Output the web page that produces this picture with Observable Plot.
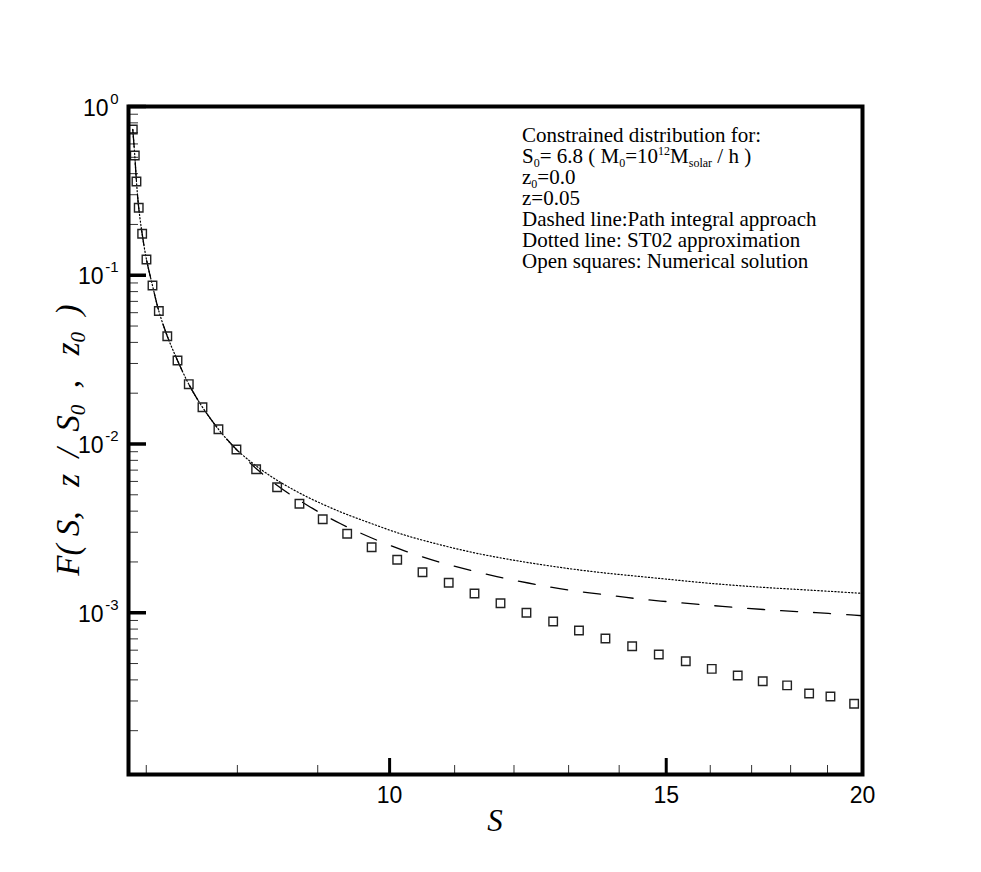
<!DOCTYPE html>
<html><head><meta charset="utf-8">
<script src="https://cdn.jsdelivr.net/npm/d3@7"></script>
<script src="https://cdn.jsdelivr.net/npm/@observablehq/plot@0.6"></script>
<style>body{margin:0;background:#fff;} #chart svg{display:block;}</style>
</head><body><div id="chart"></div>
<script>
// Numerical solution (open squares)
const squareS = [6.863,6.883,6.900,6.923,6.958,7.002,7.064,7.130,7.219,7.328,7.450,7.601,7.781,7.989,8.223,8.480,8.762,9.066,9.397,9.740,10.112,10.494,10.905,11.325,11.765,12.221,12.709,13.199,13.721,14.269,14.837,15.436,16.035,16.657,17.279,17.908,18.495,19.082,19.756];
const squareF = [0.7306,0.5125,0.3594,0.2510,0.1760,0.1240,0.08695,0.06141,0.04353,0.03125,0.02262,0.01652,0.01224,0.009277,0.007089,0.005546,0.004421,0.003584,0.002937,0.002446,0.002060,0.001739,0.001505,0.001300,0.001139,0.000999,0.000887,0.000785,0.000704,0.000633,0.000566,0.000516,0.000465,0.000425,0.000393,0.000371,0.000332,0.000319,0.000289];
// Path integral approach (dashed)
const dashS = [6.863,6.883,6.900,6.923,6.958,7.002,7.064,7.130,7.219,7.328,7.450,7.601,7.781,7.989,8.223,8.543,8.905,9.301,9.742,10.221,10.731,11.275,11.834,12.419,13.035,13.765,14.465,15.242,16.035,16.870,17.754,18.680,19.663,20];
const dashF = [0.7306,0.5125,0.3594,0.2510,0.1760,0.1240,0.08695,0.06141,0.04353,0.03125,0.02262,0.01652,0.01224,0.009277,0.007157,0.005411,0.004222,0.003379,0.002773,0.002329,0.002007,0.001780,0.001600,0.001466,0.001358,0.001274,0.001203,0.001150,0.001104,0.001063,0.001028,0.001001,0.000970,0.000960];
// ST02 approximation (dotted)
const dotS = [6.863,6.883,6.900,6.923,6.958,7.002,7.064,7.130,7.219,7.328,7.450,7.601,7.781,7.989,8.357,8.775,9.260,9.723,10.210,10.722,11.259,11.822,12.414,13.035,13.686,14.374,15.093,15.849,16.641,17.475,18.349,19.272,20];
const dotF = [0.7306,0.5125,0.3594,0.2510,0.1760,0.1240,0.08695,0.06141,0.04353,0.03125,0.02262,0.01652,0.01224,0.009277,0.006658,0.005089,0.004035,0.003394,0.002896,0.002555,0.002291,0.002097,0.001945,0.001821,0.001724,0.001646,0.001574,0.001505,0.001450,0.001405,0.001368,0.001331,0.001302];

// Ticks
const xMajor = [10, 15, 20];
const xMinor = [7, 8, 9, 11, 12, 13, 14, 16, 17, 18, 19];
const yMajor = [1, 0.1, 0.01, 0.001];
const yExponents = ["0", "-1", "-2", "-3"];
const yMinor = [0.9,0.8,0.7,0.6,0.5,0.4,0.3,0.2, 0.09,0.08,0.07,0.06,0.05,0.04,0.03,0.02, 0.009,0.008,0.007,0.006,0.005,0.004,0.003,0.002, 0.0009,0.0008,0.0007,0.0006,0.0005,0.0004,0.0003,0.0002];

const annotationLines = [
  [["Constrained distribution for:", ""]],
  [["S",""],["0","sub"],["= 6.8 ( M",""],["0","sub"],["=10",""],["12","sup"],["M",""],["solar","sub"],[" / h )",""]],
  [["z",""],["0","sub"],["=0.0",""]],
  [["z=0.05",""]],
  [["Dashed line:Path integral approach",""]],
  [["Dotted line: ST02 approximation",""]],
  [["Open squares: Numerical solution",""]]
];
const xTitle = "S";
const yTitleParts = [["F( S,   z  /  S",""],["0","sub"],["  ,   z",""],["0","sub"],["  )",""]];

const W = 981, H = 872, mL = 128, mR = 119, mT = 106, mB = 98;
const innerW = W - mL - mR, innerH = H - mT - mB;
const sans = "'Liberation Sans', Arial, Helvetica, sans-serif";
const serif = "'Liberation Serif', 'Times New Roman', Times, serif";

const squares = squareS.map((s, i) => ({S: s, F: squareF[i]}));
const dashed = dashS.map((s, i) => ({S: s, F: dashF[i]}));
const dotted = dotS.map((s, i) => ({S: s, F: dotF[i]}));
const yLab = yMajor.map((v, i) => ({v, e: yExponents[i]}));

const plot = Plot.plot({
  width: W, height: H,
  marginLeft: mL, marginRight: mR, marginTop: mT, marginBottom: mB,
  style: {background: "white", fontFamily: sans},
  x: {type: "log", domain: [6.82, 20], axis: null},
  y: {type: "log", domain: [1.1e-4, 1], axis: null},
  marks: [
    Plot.tickY(yMinor, {y: d => d, insetRight: innerW - 10, stroke: "#333", strokeWidth: 1}),
    Plot.tickY(yMajor, {y: d => d, insetRight: innerW - 18, stroke: "black", strokeWidth: 3.5}),
    Plot.tickX(xMinor, {x: d => d, insetTop: innerH - 9, stroke: "#333", strokeWidth: 1}),
    Plot.tickX(xMajor, {x: d => d, insetTop: innerH - 16, stroke: "black", strokeWidth: 3}),
    Plot.line(dotted, {x: "S", y: "F", stroke: "black", strokeWidth: 1.2, strokeDasharray: "1.2 2.2", curve: "catmull-rom"}),
    Plot.line(dashed, {x: "S", y: "F", stroke: "black", strokeWidth: 1.3, strokeDasharray: "17 16", curve: "catmull-rom"}),
    Plot.dot(squares, {x: "S", y: "F", symbol: "square", r: 4.8, stroke: "#222", strokeWidth: 1.4, fill: "none"}),
    // y tick labels
    Plot.text(yLab.filter(d => d.e === "0"), {y: "v", frameAnchor: "left", text: () => "10", textAnchor: "end", dx: -20, dy: 9, lineAnchor: "bottom", fontSize: 23, fontFamily: sans, fill: "black"}),
    Plot.text(yLab.filter(d => d.e !== "0"), {y: "v", frameAnchor: "left", text: () => "10", textAnchor: "end", dx: -25, dy: 9, lineAnchor: "bottom", fontSize: 23, fontFamily: sans, fill: "black"}),
    Plot.text(yLab, {y: "v", frameAnchor: "left", text: "e", textAnchor: "end", dx: -10, dy: -3, lineAnchor: "bottom", fontSize: 15, fontFamily: sans, fill: "black"}),
    // x tick labels
    Plot.text(xMajor, {x: d => d, frameAnchor: "bottom", text: d => String(d), dy: 28, lineAnchor: "bottom", fontSize: 23, fontFamily: sans, fill: "black"}),
    Plot.frame({stroke: "black", strokeWidth: 4})
  ]
});
document.getElementById("chart").appendChild(plot);

const svg = d3.select(plot);
// Annotation block
const ax = 522, ay0 = 142, pitch = 21;
annotationLines.forEach((parts, li) => {
  const t = svg.append("text")
    .attr("x", ax).attr("y", ay0 + li * pitch)
    .attr("text-anchor", "start")
    .attr("font-family", serif).attr("font-size", 21).attr("fill", "black")
    .style("white-space", "pre");
  parts.forEach(([str, kind]) => {
    const ts = t.append("tspan").text(str);
    if (kind === "sub") ts.attr("font-size", 12).attr("baseline-shift", "-4");
    if (kind === "sup") ts.attr("font-size", 12).attr("baseline-shift", "8");
  });
});
// x axis title
svg.append("text").attr("x", mL + innerW / 2).attr("y", 831)
  .attr("text-anchor", "middle").attr("font-family", serif).attr("font-style", "italic")
  .attr("font-size", 31).attr("fill", "black").text(xTitle);
// y axis title
const yt = svg.append("text")
  .attr("transform", `translate(79,${mT + innerH / 2}) rotate(-90)`)
  .attr("text-anchor", "middle").attr("font-family", serif).attr("font-style", "italic")
  .attr("font-size", 33).attr("fill", "black").style("white-space", "pre");
yTitleParts.forEach(([str, kind]) => {
  const ts = yt.append("tspan").text(str);
  if (kind === "sub") ts.attr("font-size", 21).attr("baseline-shift", "-6");
});
</script>
</body></html>
